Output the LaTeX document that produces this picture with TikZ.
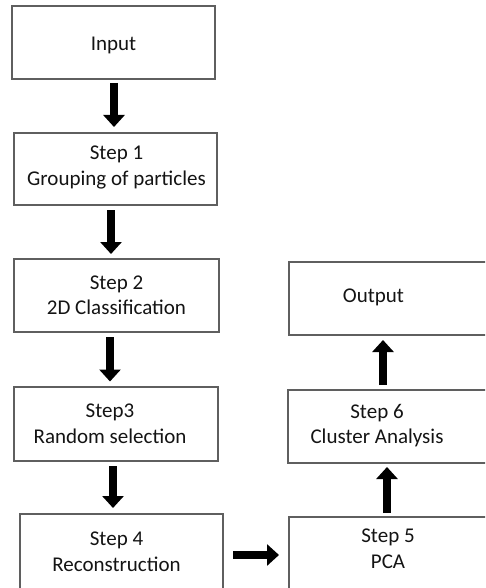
\documentclass[tikz,border=0pt]{standalone}
\usepackage{fontspec}
\setmainfont{Carlito}
\usetikzlibrary{arrows.meta}
\definecolor{boxgray}{RGB}{95,95,95}
\definecolor{txt}{RGB}{20,20,20}
\begin{document}
\begin{tikzpicture}[x=1pt,y=-1pt,
  box/.style={draw=boxgray, line width=1.2pt, inner sep=0pt, outer sep=0pt, fill=white},
  lbl/.style={align=center, font=\fontsize{21}{25.5}\selectfont, text=txt, inner sep=0pt},
  bigarrow/.style={line width=8.5pt, -{Triangle[width=21pt,length=12pt]}, black}
]
\useasboundingbox (0,0) rectangle (485,588);
\clip (0,0) rectangle (485,588);
\node[box, minimum width=203pt, minimum height=73pt,
  label={[lbl, yshift=-3pt]center:Input}] (in) at (113.5,42.5) {};
\node[box, minimum width=203pt, minimum height=72pt,
  label={[lbl, xshift=1pt, yshift=1.5pt]center:Step 1\\Grouping of particles}] (s1) at (115.5,169) {};
\node[box, minimum width=205pt, minimum height=73pt,
  label={[lbl]center:Step 2\\2D Classification}] (s2) at (116.5,295.5) {};
\node[box, minimum width=204pt, minimum height=74pt,
  label={[lbl, xshift=-6pt]center:Step3\\Random selection}] (s3) at (116,424) {};
\node[box, minimum width=203pt, minimum height=82pt,
  label={[lbl, xshift=-5pt, yshift=3pt]center:Step 4\\Reconstruction}] (s4) at (121.5,555) {};
\node[box, minimum width=205pt, minimum height=82pt,
  label={[lbl, xshift=-3.5pt, yshift=9pt]center:Step 5\\PCA}] (s5) at (391.5,558) {};
\node[box, minimum width=206pt, minimum height=73pt,
  label={[lbl, xshift=-14pt, yshift=1pt]center:Step 6\\Cluster Analysis}] (s6) at (391,426.5) {};
\node[box, minimum width=205pt, minimum height=73pt,
  label={[lbl, xshift=-18pt, yshift=1pt]center:Output}] (out) at (391.5,298.5) {};

\draw[bigarrow, shorten <=4pt, shorten >=6pt] ([xshift=0.5pt]in.south) -- ([xshift=0.5pt]in.south |- s1.north);
\draw[bigarrow, shorten <=5pt, shorten >=5pt] ([xshift=-4.5pt]s1.south) -- ([xshift=-4.5pt]s1.south |- s2.north);
\draw[bigarrow, shorten <=5pt, shorten >=5.5pt] ([xshift=-6.5pt]s2.south) -- ([xshift=-6.5pt]s2.south |- s3.north);
\draw[bigarrow, shorten <=5pt, shorten >=6pt] ([xshift=-3pt]s3.south) -- ([xshift=-3pt]s3.south |- s4.north);
\draw[bigarrow, shorten <=10pt, shorten >=10pt] (s4.east) -- (s4.east -| s5.west);
\draw[bigarrow, shorten <=4pt, shorten >=4pt] ([xshift=-4.5pt]s5.north) -- ([xshift=-4.5pt]s5.north |- s6.south);
\draw[bigarrow, shorten <=5pt, shorten >=5pt] ([xshift=-8pt]s6.north) -- ([xshift=-8pt]s6.north |- out.south);
\end{tikzpicture}
\end{document}
